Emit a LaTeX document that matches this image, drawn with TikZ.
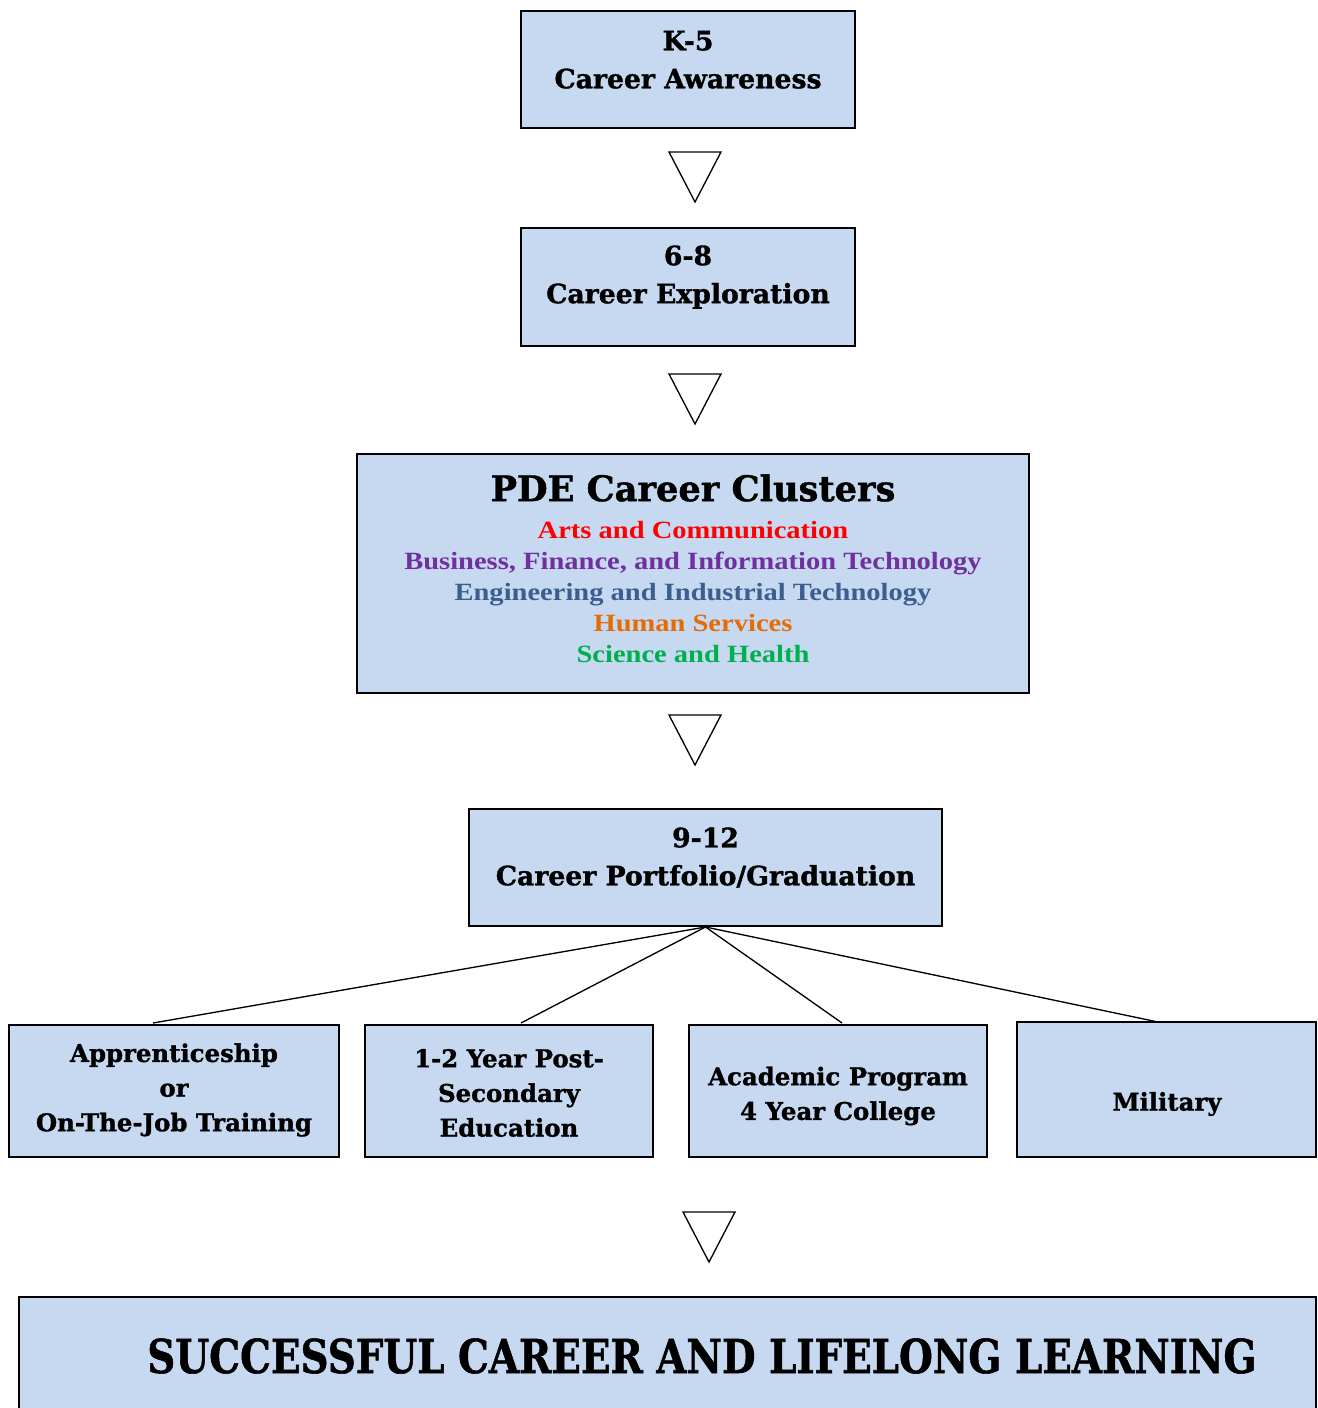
\documentclass[tikz,border=0pt]{standalone}
\usepackage{fontspec}
\setmainfont{DejaVu Serif}
\newfontfamily\headfont{DejaVu Serif}[BoldFeatures={FakeBold=1.2}]
\newfontfamily\clusterfont{Liberation Serif}[FakeStretch=1.15]
\usetikzlibrary{fit}
\definecolor{boxfill}{HTML}{C6D9F1}
\definecolor{artsred}{HTML}{FF0000}
\definecolor{bizpurple}{HTML}{7030A0}
\definecolor{engblue}{HTML}{3B5E8F}
\definecolor{humorange}{HTML}{E36C09}
\definecolor{scigreen}{HTML}{00B050}
\begin{document}
\begin{tikzpicture}[x=0.75pt,y=-0.75pt,
  box/.style={draw=black, line width=1.5pt, fill=boxfill, inner sep=0pt, align=center,
    font=\headfont\bfseries\fontsize{20}{28.5}\selectfont},
  lowtext/.style={inner sep=0pt, align=center, font=\headfont\bfseries\fontsize{18.3}{26}\selectfont},
  tri/.style={draw=black, line width=1pt, fill=white, line join=miter},
  link/.style={draw=black, line width=1pt},
  cluster/.style={align=center, inner sep=0pt, font=\clusterfont\bfseries\fontsize{18.6}{23.4}\selectfont}]
\useasboundingbox (0,0) rectangle (1317,1408);

% top boxes
\node[box, fit={(521,11) (855,128)}] (b1) {K-5\\Career Awareness};
\draw[tri] (669,152) -- (721,152) -- (695,202) -- cycle;
\node[box, fit={(521,228) (855,346)}] (b2) {6-8\\Career Exploration};
\draw[tri] (669,374) -- (721,374) -- (695,424) -- cycle;

% clusters
\node[box, fit={(357,454) (1029,693)}] (b3) {};
\node[inner sep=0pt, font=\headfont\bfseries\fontsize{26.4}{30}\selectfont] (title) at (693,488) {PDE Career Clusters};
\node[cluster] (clusters) at (693,592) {%
  \textcolor{artsred}{Arts and Communication}\\
  \textcolor{bizpurple}{Business, Finance, and Information Technology}\\
  \textcolor{engblue}{Engineering and Industrial Technology}\\
  \textcolor{humorange}{Human Services}\\
  \textcolor{scigreen}{Science and Health}};
\draw[tri] (669,715) -- (721,715) -- (695,765) -- cycle;

% 9-12
\node[box, fit={(469,809) (942,926)}] (b4) {9-12\\Career Portfolio/Graduation};

% bottom row
\node[box, fit={(9,1025) (339,1157)}] (b5) {};
\node[box, fit={(365,1025) (653,1157)}] (b6) {};
\node[box, fit={(689,1025) (987,1157)}] (b7) {};
\node[box, fit={(1017,1022) (1316,1157)}] (b8) {};
\node[lowtext] (t5) at (174,1090) {Apprenticeship\\or\\On-The-Job Training};
\node[lowtext] (t6) at (509,1093) {1-2 Year Post-\\Secondary\\Education};
\node[lowtext] (t7) at (838,1096) {Academic Program\\4 Year College};
\node[lowtext] (t8) at (1167,1104) {Military};

\coordinate (e5) at (153,1023);
\coordinate (e6) at (521,1023);
\coordinate (e7) at (842,1023);
\coordinate (e8) at (1158,1022);
\draw[link] (b4.south) -- (e5);
\draw[link] (b4.south) -- (e6);
\draw[link] (b4.south) -- (e7);
\draw[link] (b4.south) -- (e8);

\draw[tri] (683,1212) -- (735,1212) -- (709,1262) -- cycle;

% final
\node[box, fit={(19,1297) (1316,1420)}] (b9) {};
\node[inner sep=0pt] (final) at (702,1356) {\resizebox{832pt}{26pt}{\headfont\bfseries SUCCESSFUL CAREER AND LIFELONG LEARNING}};
\end{tikzpicture}
\end{document}
